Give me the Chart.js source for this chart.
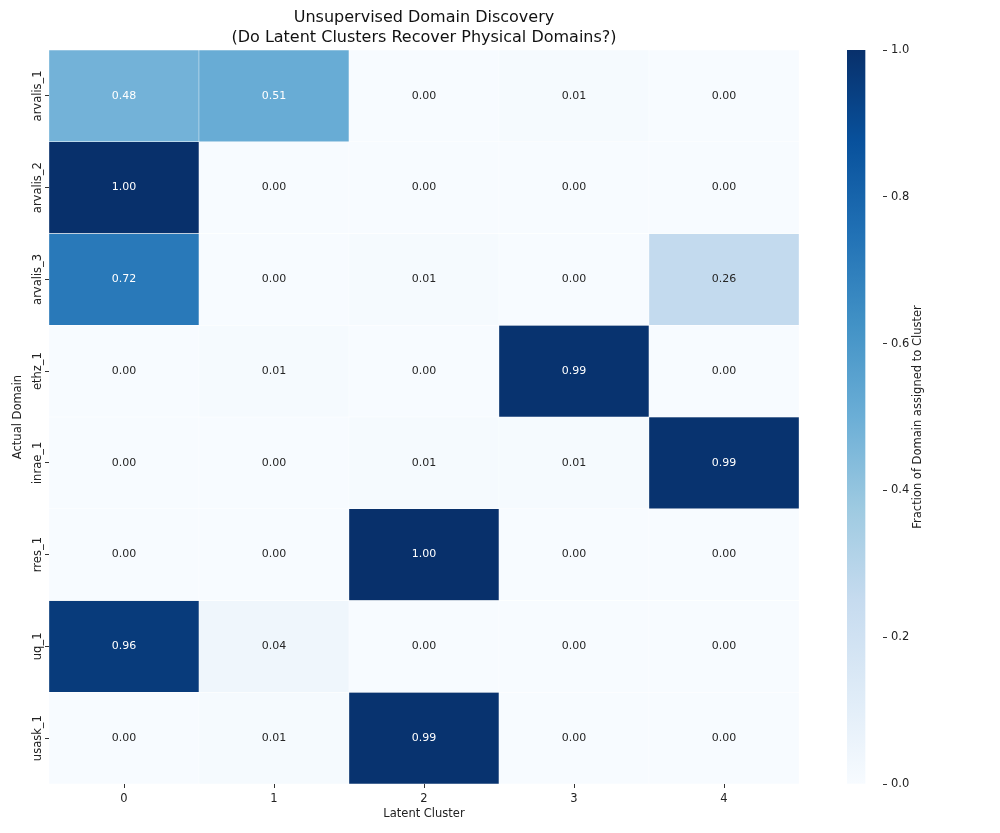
<!DOCTYPE html>
<html>
<head>
<meta charset="utf-8">
<script src="https://cdn.jsdelivr.net/npm/chart.js@4.4.1/dist/chart.umd.min.js"></script>
<style>
  html, body { margin: 0; padding: 0; background: #ffffff; }
  #wrap { position: relative; width: 1000px; height: 833px; }
  #main { position: absolute; left: 0; top: 0; }
  #cbar { position: absolute; left: 800px; top: 0; }
</style>
</head>
<body>
<div id="wrap">
  <canvas id="main" width="800" height="833"></canvas>
  <canvas id="cbar" width="200" height="833"></canvas>
</div>
<script>
// ---------- data ----------
const clusters = ['0', '1', '2', '3', '4'];
const domains = ['arvalis_1', 'arvalis_2', 'arvalis_3', 'ethz_1', 'inrae_1', 'rres_1', 'uq_1', 'usask_1'];
const arvalis_1 = [0.48, 0.51, 0.00, 0.01, 0.00];
const arvalis_2 = [1.00, 0.00, 0.00, 0.00, 0.00];
const arvalis_3 = [0.72, 0.00, 0.01, 0.00, 0.26];
const ethz_1    = [0.00, 0.01, 0.00, 0.99, 0.00];
const inrae_1   = [0.00, 0.00, 0.01, 0.01, 0.99];
const rres_1    = [0.00, 0.00, 1.00, 0.00, 0.00];
const uq_1      = [0.96, 0.04, 0.00, 0.00, 0.00];
const usask_1   = [0.00, 0.01, 0.99, 0.00, 0.00];
const rows = [arvalis_1, arvalis_2, arvalis_3, ethz_1, inrae_1, rres_1, uq_1, usask_1];
const colorbarTicks = [0.0, 0.2, 0.4, 0.6, 0.8, 1.0];

const titleLines = ['Unsupervised Domain Discovery', '(Do Latent Clusters Recover Physical Domains?)'];
const xTitle = 'Latent Cluster';
const yTitle = 'Actual Domain';
const cbarTitle = 'Fraction of Domain assigned to Cluster';

// ---------- Blues colormap ----------
const bluesStops = ['#f7fbff', '#deebf7', '#c6dbef', '#9ecae1', '#6baed6', '#4292c6', '#2171b5', '#08519c', '#08306b'];
function hexToRgb(h) { return [parseInt(h.slice(1, 3), 16), parseInt(h.slice(3, 5), 16), parseInt(h.slice(5, 7), 16)]; }
const bluesRgb = bluesStops.map(hexToRgb);
function blues(v) {
  v = Math.max(0, Math.min(1, v));
  const p = v * (bluesRgb.length - 1);
  const i = Math.min(Math.floor(p), bluesRgb.length - 2);
  const t = p - i;
  const a = bluesRgb[i], b = bluesRgb[i + 1];
  const c = a.map((x, k) => Math.round(x + (b[k] - x) * t));
  return `rgb(${c[0]},${c[1]},${c[2]})`;
}

const FONT = "'DejaVu Sans', 'Liberation Sans', sans-serif";
const TXT = '#222222';
const AX = 11.5;

// ---------- heatmap ----------
const datasets = rows.map((vals, i) => ({
  label: domains[i],
  data: vals.map(() => [i, i + 1]),
  values: vals,
  backgroundColor: vals.map(v => blues(v)),
  borderColor: '#ffffff',
  borderWidth: 0.5,
  borderSkipped: false,
  grouped: false,
  barPercentage: 1.0,
  categoryPercentage: 1.0
}));

const cellLabels = {
  id: 'cellLabels',
  afterDatasetsDraw(chart) {
    const ctx = chart.ctx;
    ctx.save();
    ctx.font = `11px ${FONT}`;
    ctx.textAlign = 'center';
    ctx.textBaseline = 'middle';
    chart.data.datasets.forEach((ds, di) => {
      const meta = chart.getDatasetMeta(di);
      meta.data.forEach((el, j) => {
        const v = ds.values[j];
        const c = el.getCenterPoint();
        ctx.fillStyle = v >= 0.45 ? '#ffffff' : '#262626';
        ctx.fillText(v.toFixed(2), c.x, c.y);
      });
    });
    ctx.restore();
  }
};

const yLabels = {
  id: 'yLabels',
  afterDraw(chart) {
    const ys = chart.scales.y;
    const ctx = chart.ctx;
    ctx.save();
    ctx.font = `${AX}px ${FONT}`;
    ctx.fillStyle = TXT;
    ctx.textAlign = 'center';
    ctx.textBaseline = 'middle';
    ys.ticks.forEach((t, i) => {
      const py = ys.getPixelForValue(t.value);
      ctx.save();
      ctx.translate(ys.right - 11, py);
      ctx.rotate(-Math.PI / 2);
      ctx.fillText(domains[i], 0, 0);
      ctx.restore();
    });
    ctx.restore();
  }
};

new Chart(document.getElementById('main'), {
  type: 'bar',
  data: { labels: clusters, datasets },
  options: {
    responsive: false,
    animation: false,
    events: [],
    layout: { padding: { left: 0, right: 1, top: 0, bottom: 8 } },
    plugins: {
      legend: { display: false },
      tooltip: { enabled: false },
      title: {
        display: true,
        fullSize: false,
        text: titleLines,
        color: '#111111',
        font: { family: FONT, size: 16, weight: 'normal', lineHeight: 1.25 },
        padding: { top: 8, bottom: 2 }
      }
    },
    scales: {
      x: {
        type: 'category',
        offset: true,
        grid: { display: true, drawOnChartArea: false, drawTicks: true, tickLength: 4, offset: false, color: '#333333', lineWidth: 1 },
        border: { display: false },
        ticks: { color: TXT, font: { family: FONT, size: AX }, padding: 4, maxRotation: 0 },
        title: { display: true, text: xTitle, color: TXT, font: { family: FONT, size: AX }, padding: { top: 2, bottom: 4 } },
        afterFit(scale) { scale.height = 41; }
      },
      y: {
        type: 'linear',
        reverse: true,
        min: 0,
        max: domains.length,
        afterBuildTicks(scale) { scale.ticks = domains.map((d, i) => ({ value: i + 0.5 })); },
        grid: { display: true, drawOnChartArea: false, drawTicks: true, tickLength: 4, color: '#333333', lineWidth: 1 },
        border: { display: false },
        ticks: { display: false },
        title: { display: true, text: yTitle, color: TXT, font: { family: FONT, size: AX }, padding: { top: 11, bottom: 0 } },
        afterFit(scale) { scale.width = 49; }
      }
    }
  },
  plugins: [cellLabels, yLabels]
});

// ---------- colorbar ----------
function cbarGradient(context) {
  const chart = context.chart;
  const area = chart.chartArea;
  if (!area) return bluesStops[0];
  const g = chart.ctx.createLinearGradient(0, area.bottom, 0, area.top);
  bluesStops.forEach((c, i) => g.addColorStop(i / (bluesStops.length - 1), c));
  return g;
}

const cbarTitlePlugin = {
  id: 'cbarTitle',
  afterDraw(chart) {
    const ctx = chart.ctx;
    const area = chart.chartArea;
    ctx.save();
    ctx.font = `${AX}px ${FONT}`;
    ctx.fillStyle = TXT;
    ctx.textAlign = 'center';
    ctx.textBaseline = 'middle';
    ctx.translate(118, (area.top + area.bottom) / 2);
    ctx.rotate(-Math.PI / 2);
    ctx.fillText(cbarTitle, 0, 0);
    ctx.restore();
  }
};

new Chart(document.getElementById('cbar'), {
  type: 'bar',
  data: {
    labels: ['cb'],
    datasets: [{
      data: [[colorbarTicks[0], colorbarTicks[colorbarTicks.length - 1]]],
      backgroundColor: cbarGradient,
      borderWidth: 0,
      barPercentage: 1.0,
      categoryPercentage: 1.0
    }]
  },
  options: {
    responsive: false,
    animation: false,
    events: [],
    layout: { padding: { left: 47, right: 0, top: 50, bottom: 49 } },
    plugins: { legend: { display: false }, tooltip: { enabled: false }, title: { display: false } },
    scales: {
      x: { display: false, offset: false },
      y: {
        position: 'right',
        min: 0,
        max: 1,
        afterBuildTicks(scale) { scale.ticks = colorbarTicks.map(v => ({ value: v })); },
        grid: { display: true, drawOnChartArea: false, drawTicks: true, tickLength: 4, color: '#333333' },
        border: { display: false },
        ticks: { color: TXT, font: { family: FONT, size: AX }, padding: 4, callback: v => Number(v).toFixed(1) },
        afterFit(scale) { scale.width = 117; }
      }
    }
  },
  plugins: [cbarTitlePlugin]
});
</script>
</body>
</html>
